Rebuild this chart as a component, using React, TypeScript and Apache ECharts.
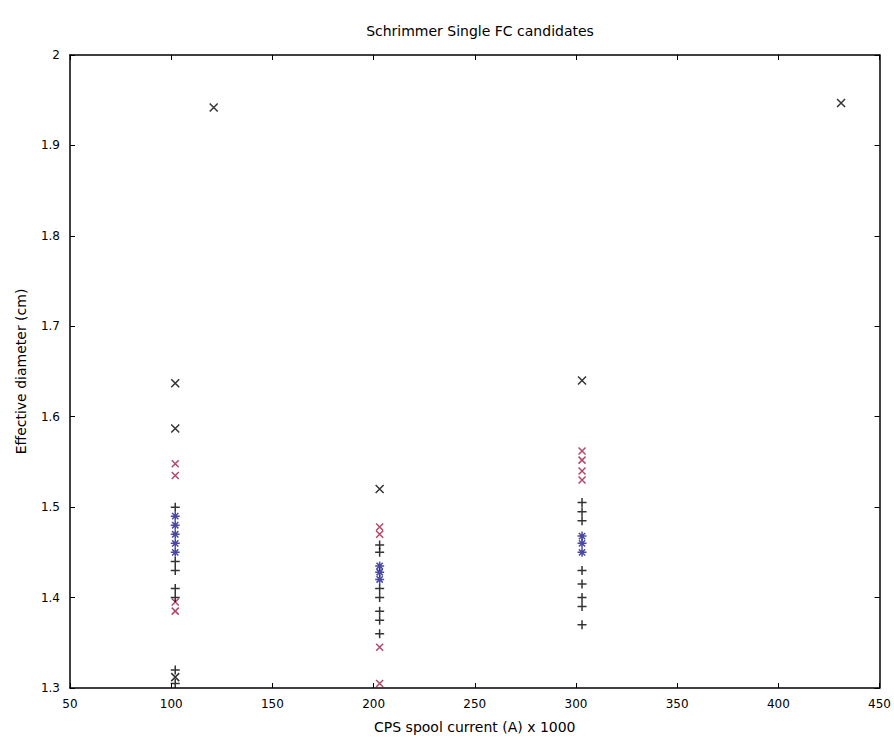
import React, { useEffect, useRef } from "react";
import * as echarts from "echarts";

// Spool current (x) against effective diameter (y) for each candidate group
const isolatedCandidates: [number, number][] = [
  [121, 1.942], [431, 1.947], [102, 1.637], [102, 1.587],
  [203, 1.52], [303, 1.64], [102, 1.312],
];
const redCandidates: [number, number][] = [
  [102, 1.548], [102, 1.535], [102, 1.395], [102, 1.385],
  [203, 1.478], [203, 1.47], [203, 1.345], [203, 1.305],
  [303, 1.562], [303, 1.552], [303, 1.54], [303, 1.53],
];
const blueCandidates: [number, number][] = [
  [102, 1.49], [102, 1.48], [102, 1.47], [102, 1.46], [102, 1.45],
  [203, 1.435], [203, 1.428], [203, 1.42],
  [303, 1.468], [303, 1.46], [303, 1.45],
];
const blackCandidates: [number, number][] = [
  [102, 1.5], [102, 1.44], [102, 1.43], [102, 1.41], [102, 1.4], [102, 1.32], [102, 1.305],
  [203, 1.458], [203, 1.45], [203, 1.41], [203, 1.4], [203, 1.385], [203, 1.375], [203, 1.36],
  [303, 1.505], [303, 1.495], [303, 1.485], [303, 1.43], [303, 1.415], [303, 1.4], [303, 1.39], [303, 1.37],
];

const titleText = "Schrimmer Single FC candidates";
const xAxisName = "CPS spool current (A) x 1000";
const yAxisName = "Effective diameter (cm)";

const CROSS = "path://M0 0 L10 10 M10 0 L0 10";
const STAR = "path://M5 0 L5 10 M0 5 L10 5 M1.5 1.5 L8.5 8.5 M8.5 1.5 L1.5 8.5";
const PLUS = "path://M5 0 L5 10 M0 5 L10 5";

const FONT = "DejaVu Sans";

function strokeSeries(name: string, data: [number, number][], symbol: string, color: string, size: number) {
  return {
    name,
    type: "scatter" as const,
    data,
    symbol,
    symbolSize: size,
    itemStyle: { color: "none", borderColor: color, borderWidth: 1.5 },
    emphasis: { disabled: true },
  };
}

export default function App() {
  const ref = useRef<HTMLDivElement>(null);

  useEffect(() => {
    document.body.style.margin = "0";
    if (!ref.current) return;
    const chart = echarts.init(ref.current, undefined, { renderer: "svg" });
    const fmtY = (v: number) => String(Math.round(v * 10) / 10);
    const axisLine = { show: true, lineStyle: { color: "#000", width: 1.5 } };
    const axisTick = { show: true, inside: true, length: 5, lineStyle: { color: "#000" } };
    const nameStyle = { fontFamily: FONT, fontSize: 14, color: "#000" };
    const tickStyle = { fontFamily: FONT, fontSize: 12, color: "#000" };
    chart.setOption({
      animation: false,
      backgroundColor: "#fff",
      title: {
        text: titleText,
        left: 475,
        top: 19,
        textAlign: "center",
        textStyle: { ...nameStyle, fontWeight: "normal" },
      },
      grid: { left: 70, right: 14, top: 55, bottom: 54, containLabel: false },
      xAxis: [
        {
          type: "value",
          min: 50,
          max: 450,
          interval: 50,
          position: "bottom",
          name: xAxisName,
          nameLocation: "middle",
          nameGap: 32,
          nameTextStyle: nameStyle,
          axisLine,
          axisTick,
          axisLabel: { ...tickStyle, margin: 10 },
          splitLine: { show: false },
        },
        {
          type: "value",
          min: 50,
          max: 450,
          interval: 50,
          position: "top",
          axisLine,
          axisTick,
          axisLabel: { show: false },
          splitLine: { show: false },
        },
      ],
      yAxis: [
        {
          type: "value",
          min: 1.3,
          max: 2,
          interval: 0.1,
          position: "left",
          name: yAxisName,
          nameLocation: "middle",
          nameGap: 42,
          nameRotate: 90,
          nameTextStyle: nameStyle,
          axisLine,
          axisTick,
          axisLabel: { ...tickStyle, margin: 10, formatter: fmtY },
          splitLine: { show: false },
        },
        {
          type: "value",
          min: 1.3,
          max: 2,
          interval: 0.1,
          position: "right",
          axisLine,
          axisTick,
          axisLabel: { show: false },
          splitLine: { show: false },
        },
      ],
      series: [
        strokeSeries("isolated", isolatedCandidates, CROSS, "#000", 8),
        strokeSeries("red", redCandidates, CROSS, "#a01c40", 7),
        strokeSeries("blue", blueCandidates, STAR, "#1c1c8c", 9),
        strokeSeries("black", blackCandidates, PLUS, "#000", 9),
      ],
    });
    return () => chart.dispose();
  }, []);

  return <div ref={ref} style={{ width: 894, height: 742 }} />;
}
